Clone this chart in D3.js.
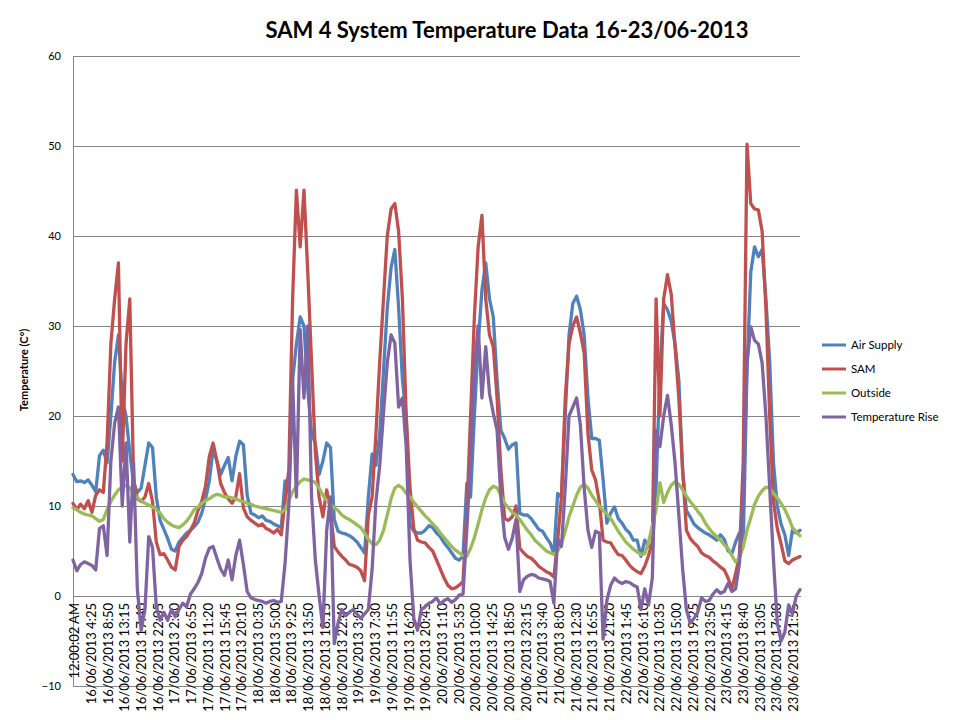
<!DOCTYPE html>
<html><head><meta charset="utf-8">
<script src="https://cdn.jsdelivr.net/npm/d3@7"></script>
<style>
body{margin:0;background:#fff}
svg{display:block}
text{font-family:Lato,"Open Sans","DejaVu Sans",sans-serif;fill:#000}
</style>
</head><body>
<svg id="chart" width="960" height="720"></svg>
<script>
const chartTitle = "SAM 4 System Temperature Data 16-23/06-2013";
const yAxisTitle = "Temperature  (C°)";
const seriesNames = ["Air Supply", "SAM", "Outside", "Temperature Rise"];
const seriesColors = ["#4F81BD", "#C0504D", "#9BBB59", "#8064A2"];
const yTicks = [-10, 0, 10, 20, 30, 40, 50, 60];
const xTickLabels = ["12:00:02 AM","16/06/2013 4:25","16/06/2013 8:50","16/06/2013 13:15","16/06/2013 17:40","16/06/2013 22:05","17/06/2013 2:30","17/06/2013 6:55","17/06/2013 11:20","17/06/2013 15:45","17/06/2013 20:10","18/06/2013 0:35","18/06/2013 5:00","18/06/2013 9:25","18/06/2013 13:50","18/06/2013 18:15","18/06/2013 22:40","19/06/2013 3:05","19/06/2013 7:30","19/06/2013 11:55","19/06/2013 16:20","19/06/2013 20:45","20/06/2013 1:10","20/06/2013 5:35","20/06/2013 10:00","20/06/2013 14:25","20/06/2013 18:50","20/06/2013 23:15","21/06/2013 3:40","21/06/2013 8:05","21/06/2013 12:30","21/06/2013 16:55","21/06/2013 21:20","22/06/2013 1:45","22/06/2013 6:10","22/06/2013 10:35","22/06/2013 15:00","22/06/2013 19:25","22/06/2013 23:50","23/06/2013 4:15","23/06/2013 8:40","23/06/2013 13:05","23/06/2013 17:30","23/06/2013 21:55"];
// sampling: one reading per hour from 16/06 00:00 to 24/06 00:00
const sampleStepHours = 1;
const labelStepHours = 265 / 60;
const totalHours = 192;

const airSupply = [
13.5,12.7,12.8,12.6,12.9,12.3,11.6,15.6,16.2,14.8,20,26,29,22,20,16,12.5,11.5,12,14.5,17,16.5,11,8.4,
7.4,6.4,5.2,5.0,6.0,6.5,7.0,7.3,7.7,8.2,9.2,10.8,12.8,16.3,15.0,13.5,14.5,15.4,12.8,15.5,17.2,16.8,11.2,9.2,
9.0,8.7,8.9,8.4,8.3,8.0,7.8,7.6,12.8,11.5,24,28,31,30,23,18,17,13.5,15,17,16.5,8.5,7.2,7.0,
6.9,6.7,6.4,6.0,5.4,4.8,11,15.8,14.5,18,25,32,36.5,38.5,32,24,20,8,7.2,7.0,7.0,7.3,7.8,7.6,
7.0,6.6,5.9,5.4,4.8,4.2,4.0,4.4,12.5,11,20,28,34,37,33,31,24,18.4,17.5,16.3,16.8,17.0,9.2,9.0,
9.0,8.6,8.0,7.4,7.2,6.5,5.9,4.7,11.4,11,20,29,32.5,33.3,31.8,29,22,17.5,17.5,17.3,12.9,8.1,9.2,9.9,
8.6,8.1,7.4,7.0,6.2,6.2,4.4,6.2,5.5,5.5,12,25,32.5,31.8,30.5,28,24,14,9.5,8.8,8.0,7.6,7.3,7.0,
6.8,6.5,6.2,6.8,6.3,5.0,4.7,6.0,7.0,5.5,25,36,38.8,37.7,38.5,33,26,14.8,10,8.0,6.8,4.5,7.3,7.0,
7.3];

const sam = [
10.3,9.6,10.2,9.7,10.6,9.3,11.2,11.8,11.5,17,28,33,37,15,28,33,13,10.8,10.5,11,12.5,10.5,6,4.6,
4.7,4.0,3.2,2.9,5.5,6.2,6.6,7.3,8.1,9.5,10.5,12.2,15.5,17.0,15.0,12.5,11.5,10.8,10.3,11.0,13.6,9.8,8.8,8.4,
8.1,7.8,8.0,7.5,7.3,7.0,7.4,6.8,10.5,14,33,45.1,38.8,45.1,36,26,16,11,8.8,11.8,9.5,5.5,4.9,4.4,
4.0,3.5,3.4,3.2,2.8,1.7,9,11,18,26,33,40,43,43.6,40.5,33,20,12,7.5,6.2,6.0,5.9,5.4,5.0,
4.0,3.0,2.0,1.2,0.8,0.9,1.2,1.6,9.2,20,31,38.8,42.3,33,29,27.7,22,14,8.6,8.4,8.8,10.0,5.3,4.8,
4.4,4.2,3.8,3.3,3.0,2.7,2.5,2.1,6.2,11,22,28,30,31,29.2,27,18,14,12.9,10.5,6.2,6.0,5.9,5.2,
4.6,4.5,4.0,3.4,3.0,2.7,2.5,3.3,4.5,6.0,33,20,33,35.7,33.5,27.7,22,14,7.3,6.4,5.9,5.5,4.8,4.5,
4.3,3.9,3.6,3.2,2.9,2.0,0.8,2.5,4.5,14.8,50.2,43.6,43.0,42.9,40.5,32,20,10.5,7.5,5.8,3.9,3.6,4.0,4.2,
4.4];

const outside = [
9.8,9.6,9.3,9.1,9.0,8.9,8.6,8.3,8.5,9.6,10.5,11.2,11.8,12.1,12.3,12.0,11.4,10.9,10.6,10.3,10.1,9.9,9.6,9.2,
8.6,8.2,7.9,7.7,7.6,7.9,8.3,8.9,9.6,9.9,10.3,10.6,10.8,11.1,11.3,11.2,11.0,11.0,10.9,10.8,10.6,10.5,10.3,10.2,
10.0,9.9,9.8,9.7,9.6,9.5,9.4,9.3,9.6,10.6,11.6,12.2,12.7,13.0,12.9,12.8,12.6,12.0,11.2,10.6,10.2,9.8,9.5,9.0,
8.7,8.5,8.2,7.9,7.6,7.0,6.3,5.8,5.7,6.2,7.3,9.0,10.8,12.0,12.3,12.0,11.4,11.0,10.4,9.9,9.4,8.9,8.5,8.0,
7.6,7.0,6.5,6.0,5.5,5.1,4.8,4.5,4.4,5.3,6.5,8.0,9.6,10.9,11.8,12.2,12.0,11.2,10.3,9.8,9.3,9.0,8.5,7.9,
7.3,6.8,6.2,5.8,5.4,5.0,4.8,4.6,5.0,5.8,7.2,8.8,10.0,11.2,12.1,12.4,12.0,11.2,10.6,10.0,9.5,9.1,8.6,7.9,
7.2,6.6,6.0,5.6,5.2,4.9,4.6,4.7,6.0,7.8,9.6,12.6,10.4,11.5,12.3,12.7,12.4,11.8,11.1,10.5,10.0,9.4,8.9,8.1,
7.5,7.0,6.6,6.2,5.7,5.3,4.5,3.8,4.2,5.5,7.3,8.7,10.2,11.1,11.7,12.1,12.0,11.4,10.9,10.3,9.6,8.7,7.6,7.1,
6.7];

const temperatureRise = [
4.0,2.8,3.5,3.8,3.6,3.4,2.9,7.5,7.8,4.5,15,19.2,21,10,17,6,14.8,0.7,-3.8,-1.5,6.6,5.4,-1.2,-2.7,
-1.8,-2.7,-1.5,-2.3,-1.5,-0.8,-1.2,0.2,0.8,1.5,2.5,4.2,5.3,5.5,4.2,3.0,2.3,4.0,1.8,4.5,6.2,3.5,0.5,-0.2,
-0.4,-0.5,-0.6,-0.8,-0.6,-0.5,-0.7,-0.6,3.6,10,24,11,29.6,22,30,11,4,0,-3.5,7.3,11,-5.3,-3,-1.5,
-2.2,-1.8,-1.5,-2.0,-2.5,-2.0,-1.5,3.0,10.5,14.5,20.3,25.9,29,28.1,21,22,16.6,4,-2.5,-3.8,-1.5,-1.2,-0.8,-0.6,
-0.2,-0.9,-0.5,-0.3,-0.7,-0.4,0.1,0.2,7.3,15,25,30,22,27.7,22.5,20.3,18.4,11,6.5,5.2,6.4,8.5,0.5,1.8,
2.2,2.4,2.3,2.0,1.9,1.8,1.6,-0.8,6.4,5.5,12,20,21,22,19,12,7.3,5.4,7.2,7.0,-4.8,-0.5,1.2,2.0,
1.6,1.4,1.6,1.5,1.2,1.0,-1.5,0.8,-1.0,2.0,18.4,16.6,20,22.3,19,14.8,9,3,-1.5,-3.0,-2.5,-1.8,-0.2,-0.6,
-0.5,0.2,0.7,0.3,0.5,1.4,0.5,0.8,3.6,11,25.9,29.9,28.4,28,25.9,20,12,4,-3,-5,-4,-1,-2,0,
0.7];

const seriesData = [airSupply, sam, outside, temperatureRise];

const svg = d3.select("#chart");
const plotLeft = 73, plotRight = 800, plotTop = 56, plotBottom = 686;
const gridColor = "#868686";

const x = d3.scaleLinear().domain([0, totalHours]).range([plotLeft, plotRight]);
const y = d3.scaleLinear().domain([d3.min(yTicks), d3.max(yTicks)]).range([plotBottom, plotTop]);

// title
svg.append("text")
  .attr("x", 507).attr("y", 38)
  .attr("text-anchor", "middle")
  .style("font-size", "22px").style("font-weight", "bold")
  .text(chartTitle);

// gridlines
svg.append("g").selectAll("line").data(yTicks).join("line")
  .attr("x1", plotLeft).attr("x2", plotRight)
  .attr("y1", d => y(d)).attr("y2", d => y(d))
  .attr("stroke", gridColor).attr("stroke-width", 1)
  .attr("shape-rendering", "crispEdges");

// y axis
const yAxis = svg.append("g").attr("transform", `translate(${plotLeft},0)`)
  .call(d3.axisLeft(y).tickValues(yTicks).tickSize(0).tickPadding(12));
yAxis.select(".domain").attr("stroke", gridColor).attr("shape-rendering", "crispEdges");
yAxis.selectAll("text").style("font-size", "11px").style("font-family", "Lato, sans-serif").attr("fill", "#000");

// y axis title
svg.append("text")
  .attr("transform", "translate(28,370) rotate(-90)")
  .attr("text-anchor", "middle")
  .style("font-size", "11px").style("font-weight", "bold")
  .text(yAxisTitle);

// x axis at value 0
const labelHours = xTickLabels.map((_, i) => i * labelStepHours);
const xAxis = svg.append("g").attr("transform", `translate(0,${y(0)})`)
  .call(d3.axisBottom(x).tickValues(labelHours).tickSize(0)
    .tickFormat((d, i) => xTickLabels[i]));
xAxis.select(".domain").attr("stroke", gridColor).attr("shape-rendering", "crispEdges");
xAxis.selectAll("text")
  .attr("transform", "rotate(-90)")
  .attr("x", -7).attr("y", 1).attr("dy", "0.35em")
  .style("text-anchor", "end")
  .style("font-size", "13px").style("font-family", "Lato, sans-serif")
  .attr("fill", "#000");

// series lines
const line = d3.line()
  .x((d, i) => x(i * sampleStepHours))
  .y(d => y(d));
svg.append("g").selectAll("path").data(seriesData).join("path")
  .attr("d", d => line(d))
  .attr("fill", "none")
  .attr("stroke", (d, i) => seriesColors[i])
  .attr("stroke-width", 3.3)
  .attr("stroke-linejoin", "round")
  .attr("stroke-linecap", "round");

// legend
const legend = svg.append("g");
const items = legend.selectAll("g").data(seriesNames).join("g")
  .attr("transform", (d, i) => `translate(822,${345 + i * 24})`);
items.append("line").attr("x1", 0).attr("x2", 24).attr("y1", 0).attr("y2", 0)
  .attr("stroke", (d, i) => seriesColors[i]).attr("stroke-width", 3);
items.append("text").attr("x", 29).attr("y", 0).attr("dy", "0.35em")
  .style("font-size", "11.5px").text(d => d);
</script>
</body></html>
